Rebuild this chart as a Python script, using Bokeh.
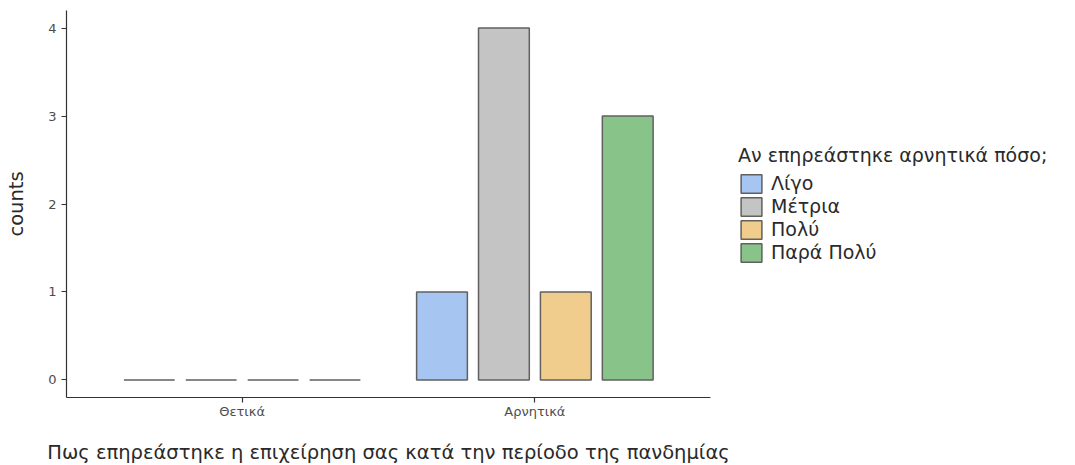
from bokeh.plotting import figure
from bokeh.models import ColumnDataSource, Range1d, Legend, LegendItem, FixedTicker
from bokeh.embed import file_html
from bokeh.resources import INLINE

categories = ["Θετικά", "Αρνητικά"]
levels = ["Λίγο", "Μέτρια", "Πολύ", "Παρά Πολύ"]
counts_thetika = [0, 0, 0, 0]
counts_arnitika = [1, 4, 1, 3]
colors = ["#A7C5F1", "#C4C4C4", "#F0CD8D", "#88C48A"]

FONT = "DejaVu Sans"
pitch = 0.2115
bar_w = 0.1735

p = figure(frame_width=644, frame_height=387, output_backend="svg", toolbar_location=None,
           x_range=Range1d(0.4, 2.6), y_range=Range1d(-0.2, 4.2),
           min_border_left=66, min_border_top=10, min_border_right=0, min_border_bottom=50)
p.outline_line_color = None
p.xgrid.visible = False
p.ygrid.visible = False

renderers = []
all_counts = [counts_thetika, counts_arnitika]
for j, lvl in enumerate(levels):
    xs = [i + 1 + (j - 1.5) * pitch for i in range(len(categories))]
    tops = [all_counts[i][j] for i in range(len(categories))]
    src = ColumnDataSource(dict(x=xs, top=tops))
    r = p.vbar(x="x", top="top", bottom=0, width=bar_w, source=src,
               fill_color=colors[j], line_color="#606060", line_width=1.5)
    renderers.append(r)

legend = Legend(items=[LegendItem(label=lvl, renderers=[r]) for lvl, r in zip(levels, renderers)],
                location="center_left", title="Αν επηρεάστηκε αρνητικά πόσο;")
legend.title_text_font = FONT
legend.title_text_font_style = "normal"
legend.title_text_font_size = "19px"
legend.title_text_color = "#2a2a2a"
legend.title_standoff = 6
legend.label_text_font = FONT
legend.label_text_font_size = "19px"
legend.label_text_color = "#2a2a2a"
legend.glyph_width = 26
legend.glyph_height = 23
legend.label_height = 23
legend.label_standoff = 7
legend.spacing = 0
legend.padding = 0
legend.margin = 28
legend.border_line_color = None
legend.background_fill_alpha = 0
p.add_layout(legend, "right")

p.xaxis[0].ticker = FixedTicker(ticks=[1, 2])
p.xaxis[0].major_label_overrides = {1: categories[0], 2: categories[1]}
p.yaxis[0].ticker = FixedTicker(ticks=[0, 1, 2, 3, 4])

for ax in (p.below[0], p.left[0]):
    ax.axis_line_color = "#333333"
    ax.axis_line_width = 1.2
    ax.major_tick_line_color = "#333333"
    ax.major_tick_line_width = 1.2
    ax.major_tick_in = 0
    ax.major_tick_out = 5
    ax.minor_tick_line_color = None
    ax.major_label_text_font = FONT
    ax.major_label_text_font_size = "13px"
    ax.major_label_text_color = "#4d4d4d"
    ax.axis_label_text_font = FONT
    ax.axis_label_text_font_size = "19.5px"
    ax.axis_label_text_font_style = "normal"
    ax.axis_label_text_color = "#2a2a2a"

p.below[0].axis_label = "Πως επηρεάστηκε η επιχείρηση σας κατά την περίοδο της πανδημίας"
p.left[0].axis_label = "counts"
p.below[0].major_label_standoff = 1
p.below[0].axis_label_standoff = 19
p.left[0].major_label_standoff = 5
p.left[0].axis_label_standoff = 17

open("out.html", "w").write(file_html(p, INLINE))
